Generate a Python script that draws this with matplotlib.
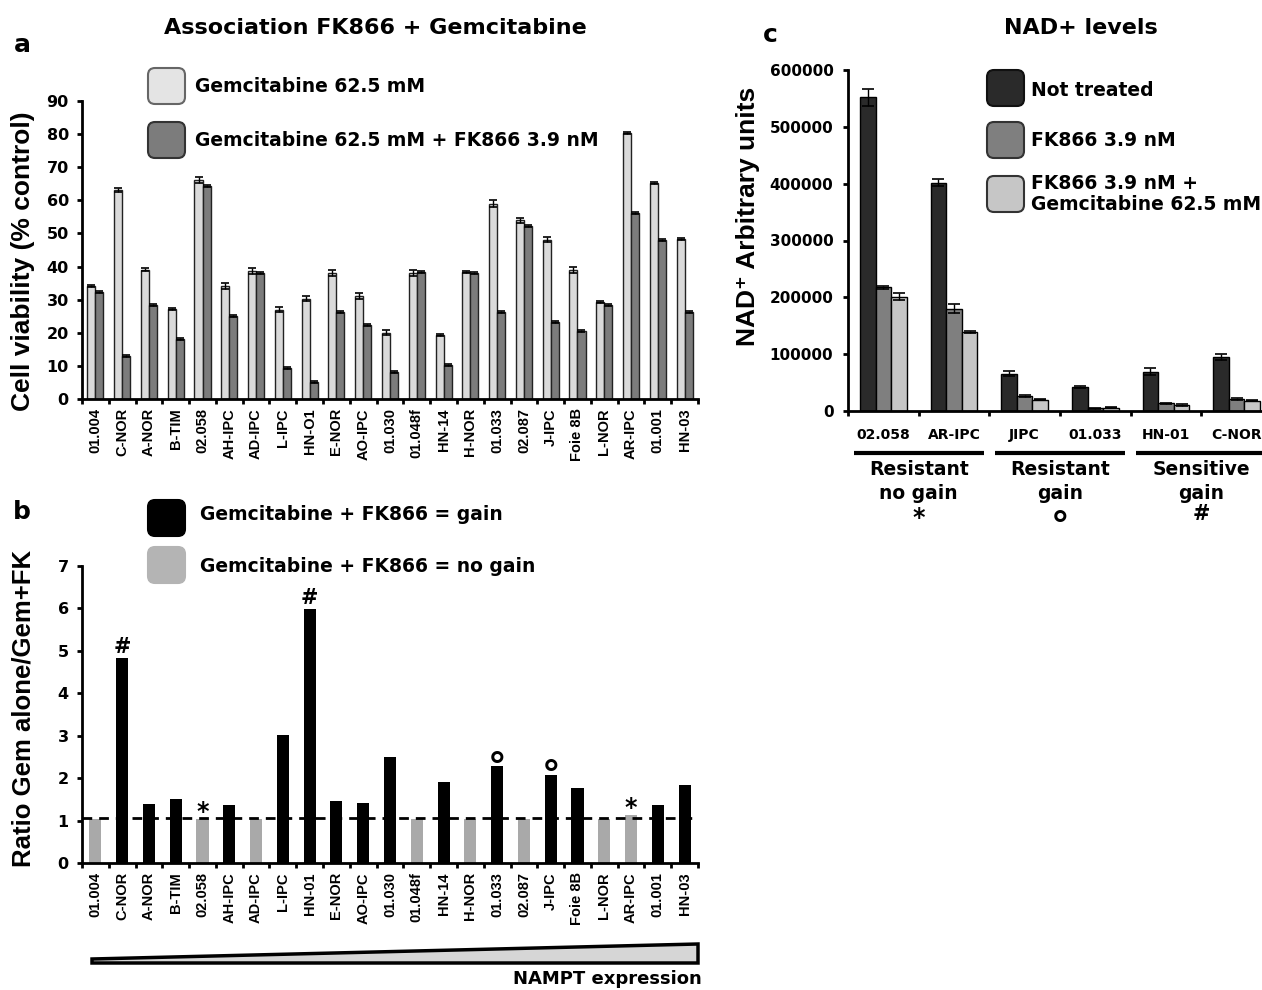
import matplotlib
matplotlib.use('Agg')
import matplotlib.pyplot as plt
import numpy as np
from matplotlib.patches import FancyBboxPatch, Polygon
import matplotlib.transforms as mtransforms

plt.rcParams['font.family'] = ['DejaVu Sans']
plt.rcParams['font.weight'] = 'bold'
plt.rcParams['axes.linewidth'] = 2

# ---- panel a : cell viability (% control)
lines_a = ['01.004', 'C-NOR', 'A-NOR', 'B-TIM', '02.058', 'AH-IPC', 'AD-IPC', 'L-IPC',
           'HN-O1', 'E-NOR', 'AO-IPC', '01.030', '01.048f', 'HN-14', 'H-NOR', '01.033',
           '02.087', 'J-IPC', 'Foie 8B', 'L-NOR', 'AR-IPC', '01.001', 'HN-03']
gem = [34.1, 63.1, 39.1, 27.1, 66.1, 34.0, 38.8, 27.0, 30.3, 38.0, 31.1, 20.0,
       38.0, 19.2, 38.3, 59.0, 54.0, 48.1, 39.0, 29.3, 80.2, 65.3, 48.2]
gem_err = [0.4, 0.6, 0.5, 0.3, 0.8, 0.9, 0.9, 0.8, 0.8, 0.9, 0.8, 0.8,
           0.9, 0.3, 0.3, 1.0, 0.8, 0.7, 1.0, 0.3, 0.3, 0.3, 0.3]
gem_fk = [32.3, 13.1, 28.3, 18.2, 64.4, 25.2, 38.0, 9.3, 5.2, 26.2, 22.4, 8.3,
          38.3, 10.3, 38.1, 26.2, 52.2, 23.2, 20.4, 28.3, 56.2, 48.1, 26.2]
gem_fk_err = [0.3, 0.3, 0.3, 0.3, 0.3, 0.3, 0.3, 0.3, 0.3, 0.3, 0.3, 0.3,
              0.3, 0.3, 0.3, 0.3, 0.3, 0.3, 0.3, 0.3, 0.3, 0.3, 0.3]

# ---- panel b : ratio gem alone / gem + FK866
lines_b = ['01.004', 'C-NOR', 'A-NOR', 'B-TIM', '02.058', 'AH-IPC', 'AD-IPC', 'L-IPC',
           'HN-01', 'E-NOR', 'AO-IPC', '01.030', '01.048f', 'HN-14', 'H-NOR', '01.033',
           '02.087', 'J-IPC', 'Foie 8B', 'L-NOR', 'AR-IPC', '01.001', 'HN-03']
ratio = [1.04, 4.83, 1.40, 1.51, 1.04, 1.36, 1.04, 3.01, 5.98, 1.47, 1.41, 2.50,
         1.03, 1.92, 1.03, 2.28, 1.03, 2.08, 1.76, 1.03, 1.14, 1.37, 1.84]
gain = [False, True, True, True, False, True, False, True, True, True, True, True,
        False, True, False, True, False, True, True, False, False, True, True]
marks = ['', '#', '', '', '*', '', '', '', '#', '', '', '', '', '', '', '°',
         '', '°', '', '', '*', '', '']
threshold = 1.05

# ---- panel c : NAD+ levels
nad_lines = ['02.058', 'AR-IPC', 'JIPC', '01.033', 'HN-01', 'C-NOR']
not_treated = [552000, 402000, 65300, 42300, 69500, 95000]
not_treated_err = [15000, 6000, 4500, 1500, 7000, 6000]
fk866 = [217700, 180200, 26000, 4800, 13300, 21200]
fk866_err = [3000, 8000, 1500, 800, 1500, 1500]
fk866_gem = [201400, 139100, 20000, 6000, 10900, 18100]
fk866_gem_err = [6500, 2000, 1000, 800, 2000, 1000]
groups = ['Resistant\nno gain', 'Resistant\ngain', 'Sensitive\ngain']
group_marks = ['*', '°', '#']
group_members = [(0, 1), (2, 3), (4, 5)]

W, H = 1262, 990
fig = plt.figure(figsize=(W / 100, H / 100), dpi=100)

# size / vertical shift (points) for each kind of mark
mark_style = {'*': (17, 0), '°': (27, -9), '#': (15, 4)}


def px_box(x0, y0, x1, y1):
    return [x0 / W, 1 - y1 / H, (x1 - x0) / W, (y1 - y0) / H]


def style(ax, n):
    for s in ['top', 'right']:
        ax.spines[s].set_visible(False)
    ax.set_xlim(-0.5, n - 0.5)
    ax.set_xticks(np.arange(n))
    ax.set_xticks(np.arange(n + 1) - 0.5, minor=True)
    ax.tick_params(axis='x', which='major', length=0)
    ax.tick_params(axis='x', which='minor', length=3.5, width=2, direction='out')
    ax.tick_params(axis='y', length=3.5, width=2)
    ax.set_facecolor('none')


rot_font = dict(family=['Liberation Sans', 'DejaVu Sans'], weight='bold')
ebar = dict(ecolor='black', elinewidth=1, capsize=2.8, capthick=1.2)

# panel a
ax_a = fig.add_axes(px_box(82, 101, 698, 399))
style(ax_a, len(lines_a))
x = np.arange(len(lines_a))
w = 0.3
ax_a.bar(x - w / 2, gem, w, yerr=gem_err, color='#dadada', edgecolor='#222222',
         linewidth=1, error_kw=ebar)
ax_a.bar(x + w / 2, gem_fk, w, yerr=gem_fk_err, color='#7c7c7c', edgecolor='#222222',
         linewidth=1, error_kw=ebar)
ax_a.set_ylim(0, 90)
ax_a.set_yticks(np.arange(0, 91, 10))
ax_a.tick_params(axis='y', labelsize=11.5, pad=6)
ax_a.tick_params(axis='x', which='major', pad=6.5)
ax_a.set_xticklabels(lines_a, rotation=90, fontsize=10.5, **rot_font)
ax_a.set_ylabel('Cell viability (% control)', fontsize=19, va='center', **rot_font)
ax_a.yaxis.set_label_coords((23 - 82) / 616, (399 - 261) / 298)

# panel b
ax_b = fig.add_axes(px_box(82, 566, 698, 863))
style(ax_b, len(lines_b))
xb = np.arange(len(lines_b))
bcolors = ['black' if g else '#a9a9a9' for g in gain]
ax_b.bar(xb, ratio, 0.45, color=bcolors, linewidth=0)
ax_b.axhline(threshold, color='black', lw=2, ls=(0, (3.5, 2.5)))
for i, m in enumerate(marks):
    if m:
        size, dy = mark_style[m]
        ax_b.annotate(m, (xb[i], ratio[i]), xytext=(0, dy), textcoords='offset points',
                      ha='center', va='baseline', fontsize=size)
ax_b.set_ylim(0, 7)
ax_b.set_yticks(np.arange(0, 8, 1))
ax_b.tick_params(axis='y', labelsize=11.5, pad=6)
ax_b.tick_params(axis='x', which='major', pad=6.5)
ax_b.set_xticklabels(lines_b, rotation=90, fontsize=10.5, **rot_font)
ax_b.set_ylabel('Ratio Gem alone/Gem+FK', fontsize=18.5, va='center', **rot_font)
ax_b.yaxis.set_label_coords((24 - 82) / 616, (863 - 708) / 297)

# panel c
ax_c = fig.add_axes(px_box(848, 70, 1272, 411))
style(ax_c, len(nad_lines))
xc = np.arange(len(nad_lines))
wc = 0.22
ebar_c = dict(ecolor='black', elinewidth=1, capsize=4, capthick=1.2)
ax_c.bar(xc - wc, not_treated, wc, yerr=not_treated_err, color='#2a2a2a',
         edgecolor='black', linewidth=1, error_kw=ebar_c)
ax_c.bar(xc, fk866, wc, yerr=fk866_err, color='#7f7f7f',
         edgecolor='black', linewidth=1, error_kw=ebar_c)
ax_c.bar(xc + wc, fk866_gem, wc, yerr=fk866_gem_err, color='#c6c6c6',
         edgecolor='black', linewidth=1, error_kw=ebar_c)
ax_c.set_ylim(0, 600000)
ax_c.set_yticks(np.arange(0, 600001, 100000))
ax_c.tick_params(axis='y', labelsize=11, pad=7)
ax_c.tick_params(axis='x', which='major', labelsize=10, pad=12)
ax_c.set_xticklabels(nad_lines)
ax_c.set_ylabel('NAD\u207a Arbitrary units', fontsize=19, va='center', **rot_font)
ax_c.yaxis.set_label_coords((748 - 848) / 424, (411 - 216) / 341)
trans = mtransforms.blended_transform_factory(ax_c.transData, ax_c.transAxes)
for (i0, i1), g, m in zip(group_members, groups, group_marks):
    mid = (i0 + i1) / 2
    ax_c.plot([mid - 0.92, mid + 0.92], [-0.123, -0.123], color='black', lw=3,
              transform=trans, clip_on=False, solid_capstyle='butt')
    ax_c.text(mid, -0.145, g, transform=trans, ha='center', va='top',
              fontsize=13.5, linespacing=1.3)
    size, dy = mark_style[m]
    ax_c.annotate(m, (mid, -0.335), xycoords=trans, xytext=(0, dy),
                  textcoords='offset points', ha='center', va='baseline',
                  fontsize=size, annotation_clip=False)

# overlay for titles, legends and decorations (pixel coordinates)
ov = fig.add_axes([0, 0, 1, 1])
ov.set_xlim(0, W)
ov.set_ylim(H, 0)
ov.axis('off')


def key(x0, y0, color, edge='#333333'):
    ov.add_patch(FancyBboxPatch((x0, y0), 37, 36, boxstyle='round,pad=0,rounding_size=7',
                                facecolor=color, edgecolor=edge, linewidth=1.5))


ov.text(22, 45, 'a', fontsize=18, ha='center', va='center')
ov.text(375, 28, 'Association FK866 + Gemcitabine', fontsize=16, ha='center', va='center')
key(148, 68, '#e4e4e4', '#666666')
ov.text(195, 86, 'Gemcitabine 62.5 mM', fontsize=13.5, va='center')
key(148, 122, '#7c7c7c')
ov.text(195, 140, 'Gemcitabine 62.5 mM + FK866 3.9 nM', fontsize=13.5, va='center')

ov.text(22, 512, 'b', fontsize=18, ha='center', va='center')
key(148, 500, 'black', 'black')
ov.text(200, 514, 'Gemcitabine + FK866 = gain', fontsize=13.5, va='center')
key(148, 547, '#b4b4b4', '#b4b4b4')
ov.text(200, 567, 'Gemcitabine + FK866 = no gain', fontsize=13.5, va='center')

ov.add_patch(Polygon([(92, 963), (698, 963), (698, 944), (92, 959)], closed=True,
                     facecolor='#d6d6d6', edgecolor='black', linewidth=2.5))
ov.text(702, 979, 'NAMPT expression', fontsize=13, ha='right', va='center')

ov.text(770, 35, 'c', fontsize=18, ha='center', va='center')
ov.text(1081, 28, 'NAD+ levels', fontsize=16, ha='center', va='center')
key(987, 70, '#2a2a2a', '#111111')
ov.text(1031, 91, 'Not treated', fontsize=13.5, va='center')
key(987, 122, '#7f7f7f')
ov.text(1031, 141, 'FK866 3.9 nM', fontsize=13.5, va='center')
key(987, 176, '#c6c6c6')
ov.text(1031, 194, 'FK866 3.9 nM +\nGemcitabine 62.5 mM', fontsize=13.5, va='center',
        linespacing=1.1)

fig.savefig('out.png', dpi=100)
